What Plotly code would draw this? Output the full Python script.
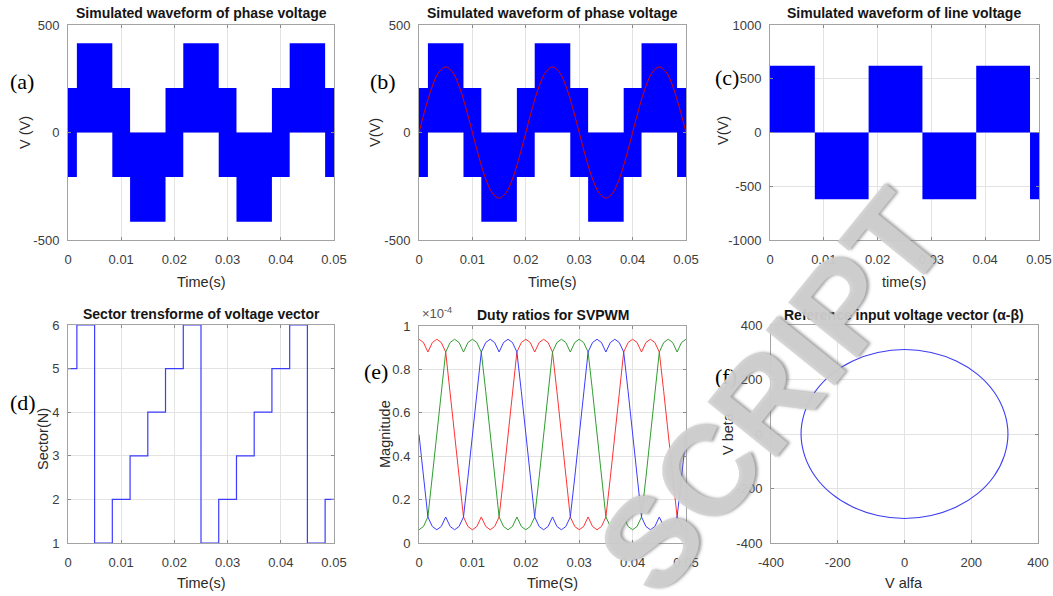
import plotly.graph_objects as go

W, H = 1053, 596

# ---------------- data ----------------
# (a)/(b) phase voltage: PWM envelope (upper / lower switching levels)
phase_t = [0, 0.00167, 0.00833, 0.01167, 0.01833, 0.02167, 0.02833, 0.03167, 0.03833, 0.04167, 0.04833, 0.05]
phase_upper = [207, 415, 207, 0, 207, 415, 207, 0, 207, 415, 207, 207]
phase_lower = [-207, 0, -207, -415, -207, 0, -207, -415, -207, 0, -207, -207]

# (b) reference sine (read every 0.00125 s)
ref_t = [i * 0.00125 for i in range(41)]
ref_v = [0, 117, 216, 282, 305, 282, 216, 117, 0, -117, -216, -282, -305, -282, -216, -117,
         0, 117, 216, 282, 305, 282, 216, 117, 0, -117, -216, -282, -305, -282, -216, -117,
         0, 117, 216, 282, 305, 282, 216, 117, 0]

# (c) line voltage
line_t = [0, 0.00833, 0.01833, 0.02833, 0.03833, 0.04833, 0.05]
line_v = [620, -620, 620, -620, 620, -620, -620]

# (d) sector number
sector_t = [0, 0.00167, 0.005, 0.00833, 0.01167, 0.015, 0.01833, 0.02167, 0.025, 0.02833,
            0.03167, 0.035, 0.03833, 0.04167, 0.045, 0.04833, 0.05]
sector_n = [5, 6, 1, 2, 3, 4, 5, 6, 1, 2, 3, 4, 5, 6, 1, 2, 2]

# (e) duty ratios (x1e-4), read every 0.05/60 s
duty_t = [i * 0.05 / 60 for i in range(61)]
duty_red = [0.939, 0.924, 0.88, 0.924, 0.939, 0.924, 0.88, 0.697, 0.5, 0.303, 0.12, 0.076,
            0.061, 0.076, 0.12, 0.076, 0.061, 0.076, 0.12, 0.303, 0.5, 0.697, 0.88, 0.924,
            0.939, 0.924, 0.88, 0.924, 0.939, 0.924, 0.88, 0.697, 0.5, 0.303, 0.12, 0.076,
            0.061, 0.076, 0.12, 0.076, 0.061, 0.076, 0.12, 0.303, 0.5, 0.697, 0.88, 0.924,
            0.939, 0.924, 0.88, 0.924, 0.939, 0.924, 0.88, 0.697, 0.5, 0.303, 0.12, 0.076, 0.061]
duty_green = [0.061, 0.076, 0.12, 0.303, 0.5, 0.697, 0.88, 0.924, 0.939, 0.924, 0.88, 0.924,
              0.939, 0.924, 0.88, 0.697, 0.5, 0.303, 0.12, 0.076, 0.061, 0.076, 0.12, 0.076,
              0.061, 0.076, 0.12, 0.303, 0.5, 0.697, 0.88, 0.924, 0.939, 0.924, 0.88, 0.924,
              0.939, 0.924, 0.88, 0.697, 0.5, 0.303, 0.12, 0.076, 0.061, 0.076, 0.12, 0.076,
              0.061, 0.076, 0.12, 0.303, 0.5, 0.697, 0.88, 0.924, 0.939, 0.924, 0.88, 0.924, 0.939]
duty_blue = [0.5, 0.303, 0.12, 0.076, 0.061, 0.076, 0.12, 0.076, 0.061, 0.076, 0.12, 0.303,
             0.5, 0.697, 0.88, 0.924, 0.939, 0.924, 0.88, 0.924, 0.939, 0.924, 0.88, 0.697,
             0.5, 0.303, 0.12, 0.076, 0.061, 0.076, 0.12, 0.076, 0.061, 0.076, 0.12, 0.303,
             0.5, 0.697, 0.88, 0.924, 0.939, 0.924, 0.88, 0.924, 0.939, 0.924, 0.88, 0.697,
             0.5, 0.303, 0.12, 0.076, 0.061, 0.076, 0.12, 0.076, 0.061, 0.076, 0.12, 0.303, 0.5]

# (f) alpha-beta reference vector
v_alfa = [310, 299, 268, 219, 155, 80, 0, -80, -155, -219, -268, -299, -310,
          -299, -268, -219, -155, -80, 0, 80, 155, 219, 268, 299, 310]
v_beta = [0, 80, 155, 219, 268, 299, 310, 299, 268, 219, 155, 80, 0,
          -80, -155, -219, -268, -299, -310, -299, -268, -219, -155, -80, 0]

# tick labels
time_ticks = [0, 0.01, 0.02, 0.03, 0.04, 0.05]
time_labels = ["0", "0.01", "0.02", "0.03", "0.04", "0.05"]
phase_ticks = [-500, 0, 500]
line_ticks = [-1000, -500, 0, 500, 1000]
sector_ticks = [1, 2, 3, 4, 5, 6]
duty_ticks = [0, 0.2, 0.4, 0.6, 0.8, 1]
duty_labels = ["0", "0.2", "0.4", "0.6", "0.8", "1"]
ab_ticks = [-400, -200, 0, 200, 400]

titles = ["Simulated waveform of phase voltage", "Simulated waveform of phase voltage",
          "Simulated waveform of line voltage", "Sector trensforme of voltage vector",
          "Duty ratios for SVPWM", "Reference input voltage vector (α-β)"]
xtitles = ["Time(s)", "Time(s)", "time(s)", "Time(s)", "Time(S)", "V alfa"]
ytitles = ["V (V)", "V(V)", "V(V)", "Sector(N)", "Magnitude", "V beta"]
panel_tags = ["(a)", "(b)", "(c)", "(d)", "(e)", "(f)"]

# ---------------- layout geometry (pixels) ----------------
boxes = [(68, 334, 25, 240), (419, 686, 25, 240), (770, 1039, 25, 240),
         (68, 334, 325, 543), (419, 686, 326, 543), (771, 1038, 325, 543)]


def px(x):
    return x / W


def py(y):
    return 1 - y / H


LINE_C = "#a3a3a3"
GRID_C = "#e3e3e3"
TICK_FONT = dict(family="Liberation Sans, Arial", size=13, color="#3c3c3c")

fig = go.Figure()
BLUE = "#0000ff"

# (a)
fig.add_trace(go.Scatter(x=phase_t, y=phase_lower, mode="lines", line=dict(shape="hv", width=0, color=BLUE),
                         xaxis="x", yaxis="y", showlegend=False))
fig.add_trace(go.Scatter(x=phase_t, y=phase_upper, mode="lines", line=dict(shape="hv", width=0, color=BLUE),
                         fill="tonexty", fillcolor=BLUE, xaxis="x", yaxis="y", showlegend=False))
# (b)
fig.add_trace(go.Scatter(x=phase_t, y=phase_lower, mode="lines", line=dict(shape="hv", width=0, color=BLUE),
                         xaxis="x2", yaxis="y2", showlegend=False))
fig.add_trace(go.Scatter(x=phase_t, y=phase_upper, mode="lines", line=dict(shape="hv", width=0, color=BLUE),
                         fill="tonexty", fillcolor=BLUE, xaxis="x2", yaxis="y2", showlegend=False))
fig.add_trace(go.Scatter(x=ref_t, y=ref_v, mode="lines", line=dict(shape="spline", width=1, color="#d40000"),
                         xaxis="x2", yaxis="y2", showlegend=False))
# (c)
fig.add_trace(go.Scatter(x=line_t, y=line_v, mode="lines", line=dict(shape="hv", width=0, color=BLUE),
                         fill="tozeroy", fillcolor=BLUE, xaxis="x3", yaxis="y3", showlegend=False))
# (d)
fig.add_trace(go.Scatter(x=sector_t, y=sector_n, mode="lines", line=dict(shape="hv", width=1.2, color="#3c3cff"),
                         xaxis="x4", yaxis="y4", showlegend=False))
# (e)
for ys, col in [(duty_red, "#ff3333"), (duty_green, "#2f9e2f"), (duty_blue, "#3c3cff")]:
    fig.add_trace(go.Scatter(x=duty_t, y=ys, mode="lines", line=dict(width=1, color=col),
                             xaxis="x5", yaxis="y5", showlegend=False))
# (f)
fig.add_trace(go.Scatter(x=v_alfa, y=v_beta, mode="lines", line=dict(shape="spline", width=1.1, color="#3c3cf5"),
                         xaxis="x6", yaxis="y6", showlegend=False))


def axis(dom, rng, tv, tt, anchor, standoff):
    return dict(domain=dom, range=rng, tickvals=tv, ticktext=tt, anchor=anchor,
                showgrid=True, gridcolor=GRID_C, gridwidth=1, zeroline=False,
                showline=True, linecolor=LINE_C, linewidth=1, mirror="ticks",
                ticks="inside", ticklen=3, tickcolor="#8a8a8a", tickfont=TICK_FONT,
                ticklabelstandoff=standoff, automargin=False, fixedrange=True)


xr = [[0, 0.05]] * 5 + [[-400, 400]]
yr = [[-500, 500], [-500, 500], [-1000, 1000], [1, 6], [0, 1], [-400, 400]]
xtv = [time_ticks] * 5 + [ab_ticks]
xtt = [time_labels] * 5 + [[str(v) for v in ab_ticks]]
ytv = [phase_ticks, phase_ticks, line_ticks, sector_ticks, duty_ticks, ab_ticks]
ytt = [[str(v) for v in phase_ticks], [str(v) for v in phase_ticks], [str(v) for v in line_ticks],
       [str(v) for v in sector_ticks], duty_labels, [str(v) for v in ab_ticks]]

lay = {}
for i, (l, r, t, b) in enumerate(boxes):
    n = "" if i == 0 else str(i + 1)
    lay["xaxis" + n] = axis([px(l), px(r)], xr[i], xtv[i], xtt[i], "y" + n, 7)
    lay["yaxis" + n] = axis([py(b), py(t)], yr[i], ytv[i], ytt[i], "x" + n, 5)

ann = []
title_y = [13, 13, 13, 314, 315, 315]
xt_y = [282, 282, 282, 583, 583, 583]
yt_x = [25, 375, 723, 43, 385, 728]
yt_y = [133, 133, 131, 439, 434, 434]
tag_pos = [(22, 82), (383, 82), (727, 78), (23, 402), (376, 371), (726, 376)]
for i, (l, r, t, b) in enumerate(boxes):
    cx = (l + r) / 2
    ann.append(dict(text="<b>" + titles[i] + "</b>", x=px(cx), y=py(title_y[i]), xref="paper", yref="paper",
                    showarrow=False, xanchor="center", yanchor="middle",
                    font=dict(family="Liberation Sans, Arial", size=14, color="#151515")))
    ann.append(dict(text=xtitles[i], x=px(cx), y=py(xt_y[i]), xref="paper", yref="paper",
                    showarrow=False, xanchor="center", yanchor="middle",
                    font=dict(family="Liberation Sans, Arial", size=14.5, color="#2a2a2a")))
    ann.append(dict(text=ytitles[i], x=px(yt_x[i]), y=py(yt_y[i]), xref="paper", yref="paper",
                    showarrow=False, xanchor="center", yanchor="middle", textangle=-90,
                    font=dict(family="Liberation Sans, Arial", size=14.5, color="#2a2a2a")))
    ann.append(dict(text=panel_tags[i], x=px(tag_pos[i][0]), y=py(tag_pos[i][1]), xref="paper", yref="paper",
                    showarrow=False, xanchor="center", yanchor="middle",
                    font=dict(family="Liberation Serif, Times New Roman", size=22, color="#000000")))

# exponent label for (e)
ann.append(dict(text="×10<sup>-4</sup>", x=px(420), y=py(313), xref="paper", yref="paper",
                showarrow=False, xanchor="left", yanchor="middle",
                font=dict(family="Liberation Sans, Arial", size=13, color="#555555")))

# watermark
ann.append(dict(text="<b>SCRIPT</b>", x=px(771), y=py(392), xref="paper", yref="paper",
                showarrow=False, xanchor="center", yanchor="middle", textangle=-51,
                font=dict(family="Liberation Sans, Arial", size=128, color="rgba(210,210,210,0.9)",
                          shadow="2px 2px 3px rgba(120,120,120,0.75)")))

fig.update_layout(width=W, height=H, margin=dict(l=0, r=0, t=0, b=0), autosize=False,
                  paper_bgcolor="white", plot_bgcolor="white", annotations=ann, **lay)

fig.write_html("out.html")
